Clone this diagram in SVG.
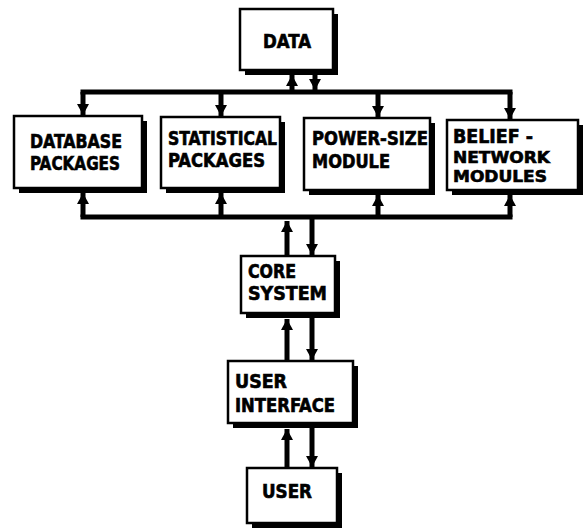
<svg xmlns="http://www.w3.org/2000/svg" width="584" height="529" viewBox="0 0 584 529">
  <style>
    .box { fill: #fff; stroke: #000; stroke-width: 2.5; }
    .shadow { fill: #000; }
    .lbl { font-family: "Liberation Sans Narrow", "DejaVu Sans Condensed", "Liberation Sans", sans-serif; font-weight: bold; font-size: 19px; fill: #000; stroke: #000; stroke-width: 0.6; }
    .tight { font-size: 16.5px; }
    .bus { fill: none; stroke: #000; stroke-width: 5; stroke-linecap: square; }
    .arr { fill: none; stroke: #000; stroke-width: 5; marker-end: url(#head); }
  </style>
  <defs>
    <marker id="head" markerUnits="userSpaceOnUse" markerWidth="14" markerHeight="12" refX="11" refY="6" orient="auto">
      <path d="M0,0 L11,6 L0,12 Z" fill="#000"/>
    </marker>
  </defs>
  <rect width="584" height="529" fill="#fff"/>

  <g id="connectors">
    <!-- upper distribution bus -->
    <path class="bus" d="M83,92 H510"/>
    <!-- lower collection bus -->
    <path class="bus" d="M83,217 H510"/>
    <!-- DATA <-> upper bus -->
    <line class="arr" x1="292" y1="92" x2="292" y2="75"/>
    <line class="arr" x1="315" y1="74" x2="315" y2="90"/>
    <!-- upper bus -> modules -->
    <line class="arr" x1="83" y1="92" x2="83" y2="115"/>
    <line class="arr" x1="221" y1="92" x2="221" y2="116"/>
    <line class="arr" x1="378" y1="92" x2="378" y2="117"/>
    <line class="arr" x1="510" y1="92" x2="510" y2="119"/>
    <!-- lower bus -> modules -->
    <line class="arr" x1="83" y1="217" x2="83" y2="193"/>
    <line class="arr" x1="221" y1="217" x2="221" y2="193"/>
    <line class="arr" x1="378" y1="217" x2="378" y2="195"/>
    <line class="arr" x1="510" y1="217" x2="510" y2="195"/>
    <!-- core system <-> lower bus -->
    <line class="arr" x1="287" y1="255" x2="287" y2="221"/>
    <line class="arr" x1="312" y1="219" x2="312" y2="255"/>
    <!-- user interface <-> core system -->
    <line class="arr" x1="287" y1="360" x2="287" y2="319"/>
    <line class="arr" x1="312" y1="318" x2="312" y2="360"/>
    <!-- user <-> user interface -->
    <line class="arr" x1="287" y1="467" x2="287" y2="429"/>
    <line class="arr" x1="312" y1="428" x2="312" y2="467"/>
  </g>

  <g id="data">
    <rect class="shadow" x="245" y="14" width="93" height="61"/>
    <rect class="box" x="240" y="9" width="93" height="61"/>
    <text class="lbl" x="263" y="48" textLength="48" lengthAdjust="spacingAndGlyphs">DATA</text>
  </g>

  <g id="database-packages">
    <rect class="shadow" x="19" y="121" width="128" height="72"/>
    <rect class="box" x="14" y="116" width="128" height="72"/>
    <text class="lbl" x="30" y="148" textLength="92" lengthAdjust="spacingAndGlyphs">DATABASE</text>
    <text class="lbl" x="30" y="170" textLength="90" lengthAdjust="spacingAndGlyphs">PACKAGES</text>
  </g>

  <g id="statistical-packages">
    <rect class="shadow" x="166" y="122" width="119" height="71"/>
    <rect class="box" x="161" y="117" width="119" height="71"/>
    <text class="lbl" x="168" y="145" textLength="109" lengthAdjust="spacingAndGlyphs">STATISTICAL</text>
    <text class="lbl" x="168" y="167" textLength="97" lengthAdjust="spacingAndGlyphs">PACKAGES</text>
  </g>

  <g id="power-size-module">
    <rect class="shadow" x="309" y="123" width="126" height="72"/>
    <rect class="box" x="304" y="118" width="126" height="72"/>
    <text class="lbl" x="312" y="145" textLength="116" lengthAdjust="spacingAndGlyphs">POWER-SIZE</text>
    <text class="lbl" x="312" y="168" textLength="78" lengthAdjust="spacingAndGlyphs">MODULE</text>
  </g>

  <g id="belief-network-modules">
    <rect class="shadow" x="452" y="125" width="131" height="70"/>
    <rect class="box" x="447" y="120" width="131" height="70"/>
    <text class="lbl" x="453" y="143" textLength="80" lengthAdjust="spacingAndGlyphs">BELIEF -</text>
    <text class="lbl tight" x="453" y="163" textLength="97" lengthAdjust="spacingAndGlyphs">NETWORK</text>
    <text class="lbl tight" x="453" y="182" textLength="94" lengthAdjust="spacingAndGlyphs">MODULES</text>
  </g>

  <g id="core-system">
    <rect class="shadow" x="246" y="261" width="94" height="57"/>
    <rect class="box" x="241" y="256" width="94" height="57"/>
    <text class="lbl" x="248" y="278" textLength="48" lengthAdjust="spacingAndGlyphs">CORE</text>
    <text class="lbl" x="248" y="300" textLength="79" lengthAdjust="spacingAndGlyphs">SYSTEM</text>
  </g>

  <g id="user-interface">
    <rect class="shadow" x="233" y="366" width="125" height="62"/>
    <rect class="box" x="228" y="361" width="125" height="62"/>
    <text class="lbl" x="235" y="388" textLength="52" lengthAdjust="spacingAndGlyphs">USER</text>
    <text class="lbl" x="235" y="412" textLength="100" lengthAdjust="spacingAndGlyphs">INTERFACE</text>
  </g>

  <g id="user">
    <rect class="shadow" x="252" y="473" width="90" height="55"/>
    <rect class="box" x="247" y="468" width="90" height="55"/>
    <text class="lbl" x="262" y="498" textLength="50" lengthAdjust="spacingAndGlyphs">USER</text>
  </g>
</svg>
